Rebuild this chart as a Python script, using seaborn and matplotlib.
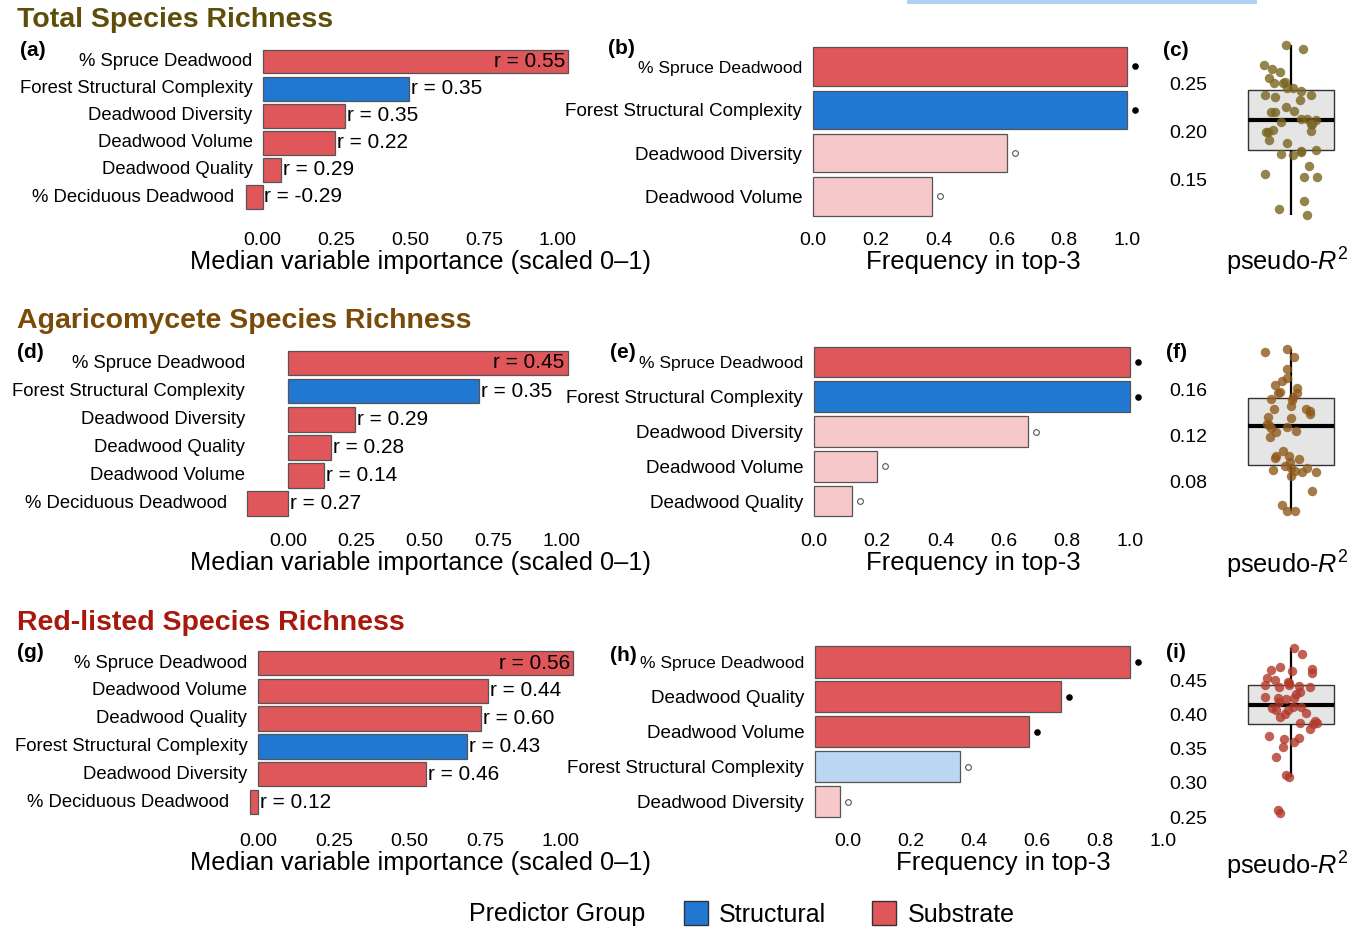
import numpy as np
import pandas as pd
import matplotlib
matplotlib.use("Agg")
import matplotlib.pyplot as plt
import matplotlib.transforms as mtransforms
from matplotlib.patches import Patch, Rectangle
import seaborn as sns

# ---------------- data ----------------
SUB, STR = "Substrate", "Structural"

imp_total_labels = ["% Spruce Deadwood", "Forest Structural Complexity", "Deadwood Diversity",
                    "Deadwood Volume", "Deadwood Quality", "% Deciduous Deadwood"]
imp_total_values = [1.034, 0.495, 0.279, 0.245, 0.061, -0.057]
imp_total_r = ["0.55", "0.35", "0.35", "0.22", "0.29", "-0.29"]
imp_total_group = [SUB, STR, SUB, SUB, SUB, SUB]

imp_agari_labels = ["% Spruce Deadwood", "Forest Structural Complexity", "Deadwood Diversity",
                    "Deadwood Quality", "Deadwood Volume", "% Deciduous Deadwood"]
imp_agari_values = [1.024, 0.700, 0.247, 0.158, 0.131, -0.151]
imp_agari_r = ["0.45", "0.35", "0.29", "0.28", "0.14", "0.27"]
imp_agari_group = [SUB, STR, SUB, SUB, SUB, SUB]

imp_red_labels = ["% Spruce Deadwood", "Deadwood Volume", "Deadwood Quality",
                  "Forest Structural Complexity", "Deadwood Diversity", "% Deciduous Deadwood"]
imp_red_values = [1.042, 0.760, 0.737, 0.692, 0.554, -0.028]
imp_red_r = ["0.56", "0.44", "0.60", "0.43", "0.46", "0.12"]
imp_red_group = [SUB, SUB, SUB, STR, SUB, SUB]

top_total_labels = ["% Spruce Deadwood", "Forest Structural Complexity", "Deadwood Diversity", "Deadwood Volume"]
top_total_freq = [1.0, 1.0, 0.618, 0.379]
top_total_group = [SUB, STR, SUB, SUB]
top_total_selected = [True, True, False, False]

top_agari_labels = ["% Spruce Deadwood", "Forest Structural Complexity", "Deadwood Diversity",
                    "Deadwood Volume", "Deadwood Quality"]
top_agari_freq = [1.0, 1.0, 0.677, 0.199, 0.12]
top_agari_group = [SUB, STR, SUB, SUB, SUB]
top_agari_selected = [True, True, False, False, False]

top_red_labels = ["% Spruce Deadwood", "Deadwood Quality", "Deadwood Volume",
                  "Forest Structural Complexity", "Deadwood Diversity"]
top_red_freq = [1.0, 0.781, 0.679, 0.46, 0.079]
top_red_group = [SUB, SUB, SUB, STR, SUB]
top_red_selected = [True, True, True, False, False]

r2_total = [0.2896, 0.2849, 0.2687, 0.2615, 0.2644, 0.2547, 0.2500, 0.2500, 0.2511, 0.2446,
            0.2453, 0.2417, 0.2356, 0.2374, 0.2374, 0.2320, 0.2255, 0.2212, 0.2201, 0.2194,
            0.2122, 0.2115, 0.2094, 0.2122, 0.2076, 0.2076, 0.1989, 0.1989, 0.2014, 0.1996,
            0.1906, 0.1871, 0.1799, 0.1755, 0.1781, 0.1763, 0.1791, 0.1637, 0.1554, 0.1518,
            0.1522, 0.1266, 0.1187, 0.1122]
r2_agari = [0.1950, 0.1922, 0.1882, 0.1778, 0.1692, 0.1672, 0.1635, 0.1606, 0.1577, 0.1565,
            0.1565, 0.1528, 0.1514, 0.1508, 0.1427, 0.1427, 0.1413, 0.1450, 0.1384, 0.1355,
            0.1347, 0.1298, 0.1269, 0.1289, 0.1260, 0.1235, 0.1226, 0.1183, 0.1019, 0.1062,
            0.1019, 0.0996, 0.0987, 0.0967, 0.0915, 0.0932, 0.0909, 0.0886, 0.0895, 0.0881,
            0.0875, 0.0846, 0.0714, 0.0593, 0.0541, 0.0535]
r2_red = [0.4973, 0.4876, 0.4695, 0.4632, 0.4598, 0.4661, 0.4646, 0.4500, 0.4524, 0.4466,
          0.4427, 0.4451, 0.4417, 0.4402, 0.4329, 0.4290, 0.4256, 0.4232, 0.4241, 0.4222,
          0.4173, 0.4110, 0.4061, 0.4095, 0.4110, 0.4012, 0.3963, 0.4061, 0.3998, 0.3900,
          0.3866, 0.3876, 0.3851, 0.3778, 0.3632, 0.3680, 0.3656, 0.3588, 0.3524, 0.3378,
          0.3110, 0.3085, 0.2598, 0.2563, 0.4427, 0.4402]

# ---------------- style ----------------
sns.set_style("white")
plt.rcParams["font.family"] = ["Liberation Sans", "DejaVu Sans"]
plt.rcParams["mathtext.fontset"] = "custom"
plt.rcParams["mathtext.rm"] = "Liberation Sans"
plt.rcParams["mathtext.it"] = "Liberation Sans:italic"
for key in ["text.color", "axes.labelcolor", "xtick.color", "ytick.color"]:
    plt.rcParams[key] = "black"

RED, BLUE = "#E0575B", "#2078D2"
PINK, LBLUE = "#F6C8CA", "#BAD6F2"
FULL = {SUB: RED, STR: BLUE}
LIGHT = {SUB: PINK, STR: LBLUE}
EDGE = "#555555"

W, H = 1362, 930
fig = plt.figure(figsize=(W / 100, H / 100), dpi=100)
fig.patch.set_facecolor("white")
PT = 0.72  # points per pixel at 100 dpi


def add_ax(left, top, right, bottom):
    ax = fig.add_axes([left / W, 1 - bottom / H, (right - left) / W, (bottom - top) / H])
    ax.set_facecolor("none")
    for s in ax.spines.values():
        s.set_visible(False)
    return ax


def place_xaxis_text(ax, rect, tick_y, tick_fs, title, title_x, title_y, title_fs=18.3):
    left, top, right, bottom = rect
    top_of_label = tick_y - 0.36 * tick_fs / PT
    ax.tick_params(axis="x", length=0, labelsize=tick_fs, pad=(top_of_label - bottom) * PT)
    ax.set_xlabel(title, fontsize=title_fs, va="center")
    ax.xaxis.set_label_coords((title_x - left) / (right - left), (bottom - title_y) / (bottom - top))


def importance_panel(labels, values, rvals, groups, x0, scale, row0, step,
                     lab_pad, neg_pad, tick_y, title_y):
    n = len(labels)
    xlim = (-0.2, 1.15)
    rect = (x0 + xlim[0] * scale, row0 - 0.6 * step, x0 + xlim[1] * scale, row0 + (n - 0.4) * step)
    ax = add_ax(*rect)
    df = pd.DataFrame({"label": labels, "value": values, "group": groups})
    sns.barplot(data=df, x="value", y="label", hue="group", palette=FULL, orient="h",
                width=0.88, dodge=False, errorbar=None, saturation=1, edgecolor=EDGE,
                linewidth=0.9, legend=False, ax=ax)
    ax.set_xlim(*xlim)
    ax.set_ylim(n - 1 + 0.6, -0.6)
    ax.set_ylabel("")
    ax.tick_params(axis="y", length=0, labelleft=False)
    ax.set_xticks([0, 0.25, 0.5, 0.75, 1.0])
    ax.set_xticklabels(["0.00", "0.25", "0.50", "0.75", "1.00"])
    place_xaxis_text(ax, rect, tick_y, 14, "Median variable importance (scaled 0\u20131)", 421, title_y)
    for i, (lab, v, r) in enumerate(zip(labels, values, rvals)):
        if v < 0 and v * scale - neg_pad < -lab_pad:
            ax.annotate(lab, (v, i), xytext=(-neg_pad * PT, 0), textcoords="offset points",
                        ha="right", va="center", fontsize=13.3)
        else:
            ax.annotate(lab, (0, i), xytext=(-lab_pad * PT, 0), textcoords="offset points",
                        ha="right", va="center", fontsize=13.3)
        txt = f"r = {r}"
        if v >= 1.0:
            ax.annotate(txt, (v, i), xytext=(-3 * PT, 0), textcoords="offset points",
                        ha="right", va="center", fontsize=15)
        else:
            ax.annotate(txt, (max(v, 0), i), xytext=(2 * PT, 0), textcoords="offset points",
                        ha="left", va="center", fontsize=15)
    return ax


def top3_panel(labels, freq, groups, selected, x0, scale, row0, step, tick_y, title_x, title_y,
               label_shift=0):
    n = len(labels)
    xlim = (-0.02, 1.08)
    rect = (x0 + xlim[0] * scale, row0 - 0.6 * step, x0 + xlim[1] * scale, row0 + (n - 0.4) * step)
    ax = add_ax(*rect)
    colors = {lab: (FULL[g] if s else LIGHT[g]) for lab, g, s in zip(labels, groups, selected)}
    df = pd.DataFrame({"label": labels, "freq": freq})
    sns.barplot(data=df, x="freq", y="label", hue="label", palette=colors, orient="h",
                width=0.89, dodge=False, errorbar=None, saturation=1, edgecolor=EDGE,
                linewidth=0.9, legend=False, ax=ax)
    ax.set_xlim(*xlim)
    ax.set_ylim(n - 1 + 0.6, -0.6)
    ax.set_ylabel("")
    for i, (f, s) in enumerate(zip(freq, selected)):
        if s:
            ax.scatter(f + 0.025, i, s=14, color="black", zorder=4, clip_on=False)
        else:
            ax.scatter(f + 0.025, i, s=17, facecolor="white", edgecolor="#555555",
                       linewidth=0.8, zorder=4, clip_on=False)
    ax.set_yticks(range(n))
    ax.set_yticklabels(labels, fontsize=13.6)
    ax.get_yticklabels()[0].set_fontsize(12.6)
    ax.tick_params(axis="y", length=0, pad=3.2)
    ax.set_xticks([0, 0.2, 0.4, 0.6, 0.8, 1.0])
    ax.set_xticklabels(["0.0", "0.2", "0.4", "0.6", "0.8", "1.0"])
    place_xaxis_text(ax, rect, tick_y, 14, "Frequency in top-3", title_x + label_shift, title_y, 18.5)
    if label_shift:
        shift = mtransforms.ScaledTranslation(label_shift / 100, 0, fig.dpi_scale_trans)
        for t in ax.get_xticklabels():
            t.set_transform(t.get_transform() + shift)
    return ax


def r2_panel(values, color, ref_val, ref_px, px_per_unit, ylim, ticks, title_y, seed):
    top = ref_px - (ylim[1] - ref_val) * px_per_unit
    bottom = ref_px + (ref_val - ylim[0]) * px_per_unit
    rect = (1215, top, 1356, bottom)
    ax = add_ax(*rect)
    sns.boxplot(y=values, ax=ax, width=0.8, color="#E5E5E5", saturation=1, linecolor="#333333",
                linewidth=1.0, showcaps=False, showfliers=False,
                medianprops=dict(color="black", linewidth=3),
                whiskerprops=dict(color="black", linewidth=1.6))
    np.random.seed(seed)
    sns.stripplot(y=values, ax=ax, jitter=0.25, color=color, alpha=0.8, size=6.8,
                  linewidth=0, zorder=5)
    ax.set_xlim(-0.7, 0.6)
    ax.set_ylim(*ylim)
    ax.set_yticks(ticks)
    ax.set_yticklabels([f"{t:.2f}" for t in ticks])
    ax.tick_params(axis="y", length=0, labelsize=14, pad=5.8)
    ax.set_xticks([])
    place_xaxis_text(ax, rect, title_y, 14, "pseudo-$R^2$", 1287, title_y, 18.3)
    return ax


# ---------------- panels ----------------
importance_panel(imp_total_labels, imp_total_values, imp_total_r, imp_total_group,
                 262.5, 295.5, 61.5, 27.1, 10, 12, 239, 262)
importance_panel(imp_agari_labels, imp_agari_values, imp_agari_r, imp_agari_group,
                 288, 273, 363, 28.1, 43, 20, 540, 563)
importance_panel(imp_red_labels, imp_red_values, imp_red_r, imp_red_group,
                 258.3, 302, 663, 27.8, 11, 21, 840, 863)

top3_panel(top_total_labels, top_total_freq, top_total_group, top_total_selected,
           813, 314, 66.5, 43.3, 239, 973, 262)
top3_panel(top_agari_labels, top_agari_freq, top_agari_group, top_agari_selected,
           814, 316, 362, 34.75, 540, 973, 563)
top3_panel(top_red_labels, top_red_freq, top_red_group, top_red_selected,
           815, 315, 662, 34.9, 840, 970, 863, label_shift=33)

r2_panel(r2_total, "#7A6520", 0.25, 83, 960, (0.105, 0.295), [0.15, 0.20, 0.25], 262, 1)
r2_panel(r2_agari, "#8E5A1C", 0.16, 389, 1150, (0.048, 0.202), [0.08, 0.12, 0.16], 565, 2)
r2_panel(r2_red, "#B23A2C", 0.45, 680, 685, (0.245, 0.505), [0.25, 0.30, 0.35, 0.40, 0.45], 866, 3)

# ---------------- titles and panel tags ----------------
def ftext(x, y, s, **kw):
    fig.text(x / W, 1 - y / H, s, va="center", ha="left", **kw)

ftext(17, 20, "Total Species Richness", fontsize=20.5, fontweight="bold", color="#5E4E0A")
ftext(17, 321, "Agaricomycete Species Richness", fontsize=20.5, fontweight="bold", color="#7A4A08")
ftext(17, 623, "Red-listed Species Richness", fontsize=20.5, fontweight="bold", color="#A8180C")

for x, y, tag in [(20, 51, "(a)"), (608, 49, "(b)"), (1163, 51, "(c)"),
                  (17, 352, "(d)"), (610, 352, "(e)"), (1166, 352, "(f)"),
                  (17, 653, "(g)"), (610, 655, "(h)"), (1166, 653, "(i)")]:
    ftext(x, y, tag, fontsize=15, fontweight="bold")

# ---------------- legend ----------------
ftext(469, 914, "Predictor Group", fontsize=18)
handles = [Patch(facecolor=BLUE, edgecolor="#333333", label="Structural"),
           Patch(facecolor=RED, edgecolor="#333333", label="Substrate")]
fig.legend(handles=handles, loc="center left", bbox_to_anchor=(684 / W, 1 - 914 / H),
           ncol=2, frameon=False, fontsize=18, handlelength=0.96, handleheight=1.05,
           handletextpad=0.44, columnspacing=1.85, borderpad=0, borderaxespad=0)

fig.patches.append(Rectangle((907 / W, 1 - 4 / H), 350 / W, 4 / H, transform=fig.transFigure,
                             facecolor="#B0CFF5", edgecolor="none"))

fig.savefig("out.png", dpi=100, facecolor="white")
